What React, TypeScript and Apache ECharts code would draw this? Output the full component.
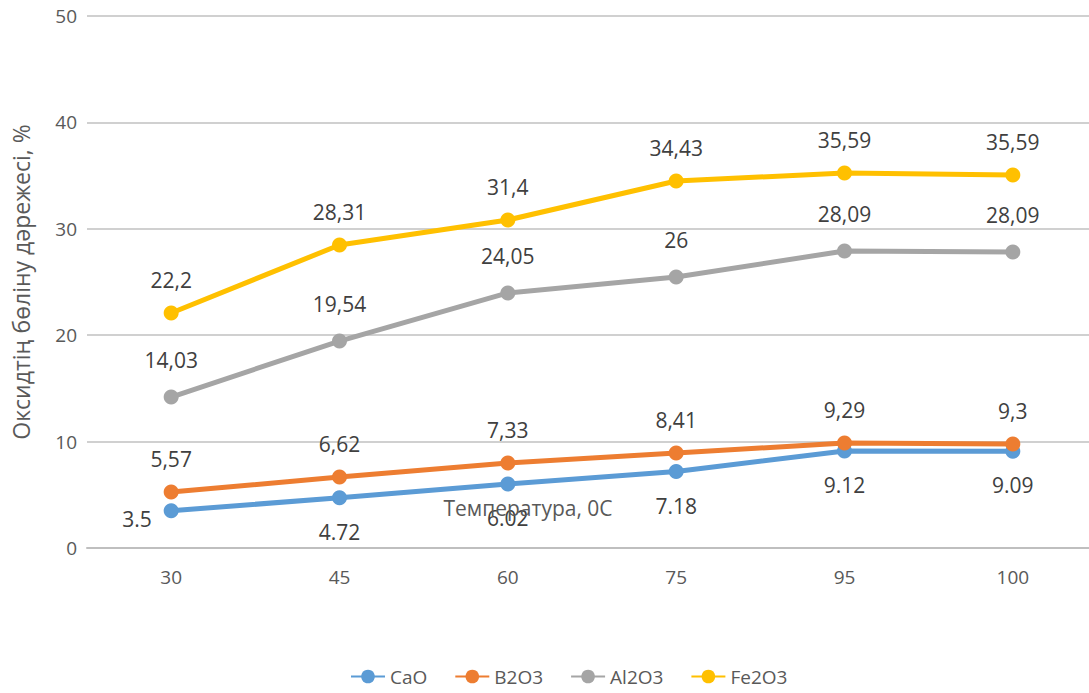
import React, { useEffect, useRef } from "react";
import * as echarts from "echarts";

const categories = ["30", "45", "60", "75", "95", "100"];
const seriesNames = ["CaO", "B2O3", "Al2O3", "Fe2O3"];
const caoValues = [3.5, 4.72, 6.02, 7.18, 9.12, 9.09];
const b2o3Values = [5.26, 6.67, 7.99, 8.93, 9.87, 9.77];
const al2o3Values = [14.19, 19.45, 23.97, 25.47, 27.91, 27.82];
const fe2o3Values = [22.09, 28.48, 30.83, 34.49, 35.24, 35.06];
const caoLabels = ["3.5", "4.72", "6.02", "7.18", "9.12", "9.09"];
const b2o3Labels = ["5,57", "6,62", "7,33", "8,41", "9,29", "9,3"];
const al2o3Labels = ["14,03", "19,54", "24,05", "26", "28,09", "28,09"];
const fe2o3Labels = ["22,2", "28,31", "31,4", "34,43", "35,59", "35,59"];
const colors = ["#5B9BD5", "#ED7D31", "#A5A5A5", "#FFC000"];
const yAxisName = "Оксидтің бөліну дәрежесі, %";
const xAxisName = "Температура, 0С";

const FONT = "'Open Sans', 'DejaVu Sans', sans-serif";

export default function App() {
  const ref = useRef<HTMLDivElement>(null);
  useEffect(() => {
    document.body.style.margin = "0";
    const chart = echarts.init(ref.current!, null, { renderer: "svg" });
    const mk = (i: number, values: number[], labels: string[], pos: string, dist: number) => ({
      name: seriesNames[i],
      type: "line",
      data: values.map((v, j) => {
        const item: any = { value: v };
        if (i === 0 && j === 0) {
          item.label = { position: "left", distance: 12, offset: [0, 8] };
        }
        return item;
      }),
      symbol: "circle",
      symbolSize: 15,
      lineStyle: { width: 5, color: colors[i] },
      itemStyle: { color: colors[i] },
      label: {
        show: true,
        position: pos,
        distance: dist,
        fontSize: 21,
        fontFamily: FONT,
        color: "#404040",
        formatter: (p: any) => labels[p.dataIndex],
      },
      z: 2 + i,
    });
    chart.setOption({
      animation: false,
      color: colors,
      textStyle: { fontFamily: FONT },
      grid: {
        left: 87,
        width: 1010,
        top: 16,
        height: 532,
        containLabel: false,
        outerBoundsMode: "none",
      },
      legend: {
        bottom: 2,
        left: 345,
        itemWidth: 34,
        itemHeight: 17,
        itemGap: 27,
        textStyle: { fontSize: 19, color: "#595959", fontFamily: FONT },
        data: seriesNames,
      },
      xAxis: {
        type: "category",
        data: categories,
        boundaryGap: true,
        axisLine: { lineStyle: { color: "#bfbfbf", width: 2 } },
        axisTick: { show: false },
        axisLabel: { fontSize: 19, color: "#595959", margin: 19, fontFamily: FONT },
      },
      yAxis: {
        type: "value",
        min: 0,
        max: 50,
        interval: 10,
        name: yAxisName,
        nameLocation: "middle",
        nameGap: 55,
        nameTextStyle: { fontSize: 23, color: "#595959", fontFamily: FONT },
        axisLine: { show: false },
        axisTick: { show: false },
        axisLabel: { fontSize: 19, color: "#595959", margin: 10, fontFamily: FONT },
        splitLine: { lineStyle: { color: "#d0d0d0", width: 2 } },
      },
      graphic: [
        {
          type: "text",
          x: 528,
          y: 508,
          style: {
            text: xAxisName,
            fontSize: 21,
            fontFamily: FONT,
            fill: "#595959",
            textAlign: "center",
            textVerticalAlign: "middle",
          },
          z: 100,
        },
      ],
      series: [
        mk(0, caoValues, caoLabels, "bottom", 16),
        mk(1, b2o3Values, b2o3Labels, "top", 15),
        mk(2, al2o3Values, al2o3Labels, "top", 19),
        mk(3, fe2o3Values, fe2o3Labels, "top", 15),
      ],
    });
    return () => chart.dispose();
  }, []);
  return <div ref={ref} style={{ width: 1089, height: 693, position: "absolute", left: 0, top: 0 }} />;
}
